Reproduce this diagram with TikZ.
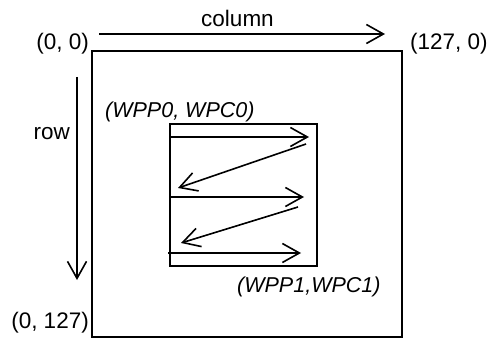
\documentclass[tikz,border=0pt]{standalone}
\usepackage{fontspec}
\setmainfont{Liberation Sans}
\usetikzlibrary{arrows.meta,positioning}
\begin{document}
\begin{tikzpicture}[x=1pt,y=-1pt,
  frame/.style={draw,line width=1.6pt},
  scan/.style={line width=1.6pt,-{Straight Barb[length=17pt,width=19pt,line width=1.6pt]}},
  lbl/.style={inner sep=0pt,font=\fontsize{22.5}{27}\selectfont},
  wlbl/.style={inner sep=0pt,font=\fontsize{21.5}{26}\selectfont\itshape}]
\useasboundingbox (0,0) rectangle (495,339);
\coordinate (outerNW) at (92,51);
\coordinate (outerSE) at (402,337);
\coordinate (winNW) at (170,124);
\coordinate (winSE) at (317,266);
\draw[frame] (outerNW) rectangle (outerSE);
\draw[frame] (winNW) rectangle (winSE);
\node[lbl,anchor=base] (column) at (237.5,27) {column};
\node[lbl,anchor=base east] (origin) at (89,50) {(0, 0)};
\node[lbl,anchor=base west] (colend) at (410,50) {(127, 0)};
\node[lbl,anchor=base east] (rowend) at (89,328) {(0, 127)};
\node[lbl,anchor=base east] (row) at (70,140) {row};
\node[wlbl,anchor=base west] (wpc0) at (105,118) {(WPP0, WPC0)};
\node[wlbl,anchor=base west] (wpc1) at (237,292) {(WPP1,WPC1)};
\coordinate (colA) at (99,34);
\coordinate (colB) at (385,34);
\coordinate (rowA) at (77,77);
\coordinate (rowB) at (77,280);
\draw[scan] (colA) -- (colB);
\draw[scan] (rowA) -- (rowB);
\coordinate (s1) at (170,137);
\coordinate (e1) at (309,137);
\coordinate (s2) at (306,144);
\coordinate (e2) at (178,188);
\coordinate (s3) at (170,197);
\coordinate (e3) at (304,197);
\coordinate (s4) at (298,207);
\coordinate (e4) at (181,243);
\coordinate (s5) at (168,253);
\coordinate (e5) at (301,253);
\foreach \i in {1,...,5}
  \draw[scan] (s\i) -- (e\i);
\end{tikzpicture}
\end{document}
